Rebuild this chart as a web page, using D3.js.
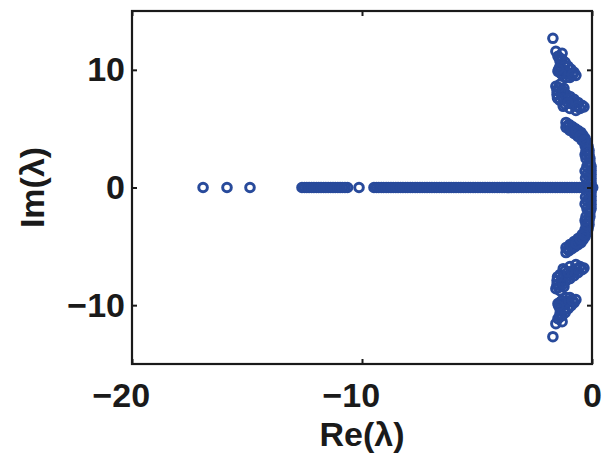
<!DOCTYPE html>
<html>
<head>
<meta charset="utf-8">
<script src="https://cdn.jsdelivr.net/npm/d3@7"></script>
<style>
  html, body { margin: 0; padding: 0; background: #ffffff; }
  svg { display: block; }
  text { font-family: "Liberation Sans", Arial, Helvetica, sans-serif; font-weight: bold; fill: #1a1a1a; }
</style>
</head>
<body>
<svg id="chart" width="605" height="455"></svg>
<script>
// ---- data ----
const xTicks = [-20, -10, 0];
const yTicks = [-10, 0, 10];
const xDomain = [-20, 0];
const yDomain = [-15, 15];
const xLabel = "Re(λ)";
const yLabel = "Im(λ)";

// purely real eigenvalues (Im = 0)
const realEigs = [
  -16.91, -15.87, -14.87,
  -12.61, -12.50, -12.40, -12.30, -12.19, -12.09, -11.98, -11.88, -11.78, -11.67,
  -11.57, -11.47, -11.36, -11.26, -11.16, -11.05, -10.95, -10.85, -10.74, -10.63,
  -10.13,
  -9.48, -9.37, -9.27, -9.16, -9.06, -8.95, -8.85, -8.74, -8.64, -8.53, -8.43, -8.32,
  -8.22, -8.11, -8.01, -7.90, -7.80, -7.69, -7.59, -7.48, -7.38, -7.27, -7.17, -7.06,
  -6.96, -6.85, -6.75, -6.64, -6.54, -6.43, -6.33, -6.22, -6.12, -6.01, -5.91, -5.80,
  -5.70, -5.59, -5.49, -5.38, -5.28, -5.17, -5.07, -4.96, -4.86, -4.75, -4.65, -4.54,
  -4.44, -4.33, -4.23, -4.12, -4.02, -3.91, -3.81, -3.70, -3.60, -3.49, -3.39, -3.28,
  -3.18, -3.07, -2.97, -2.86, -2.76, -2.65, -2.55, -2.44, -2.34, -2.23, -2.13, -2.02,
  -1.92, -1.81, -1.71, -1.60, -1.50, -1.39, -1.29, -1.18, -1.08, -0.97, -0.87, -0.76,
  -0.66, -0.55, -0.45, -0.34, -0.24, -0.13, -0.05, 0.03
];

// complex eigenvalues, upper half-plane (each comes with its conjugate)
const complexRe = [
  -1.70, -1.57, -1.30,
  -1.48, -1.30, -1.17, -1.04, -0.91, -0.78, -0.70, -1.39, -1.48, -1.30, -1.13, -0.96, -1.22, -1.39, -1.10,
  -1.40, -1.20, -1.05, -0.85, -1.35, -1.45,
  -1.57, -1.39, -1.22, -1.52, -1.35, -1.13, -0.96, -0.78, -0.61, -0.43, -1.39, -1.17, -0.96, -0.70, -0.52,
  -1.52, -1.26, -0.87, -0.35,
  -1.45, -1.25, -1.05, -0.85, -0.65, -1.25, -1.05, -1.50,
  -1.13, -1.00, -0.87, -0.74, -0.61, -0.48, -0.39, -0.30, -0.22, -0.17, -0.13, -0.13, -0.09, -0.09,
  -0.04, -0.04, -0.04, -0.04, -0.04,
  -1.13, -0.96, -0.78, -0.61, -0.43, -0.30,
  -0.26, -0.26, -0.22, -0.22, -0.17,
  -1.05, -0.90, -0.70, -0.50, -0.35, -0.20, -0.30, -0.15, -0.30, -0.10, -0.28
];
const complexIm = [
  12.68, 11.57, 11.40,
  11.15, 10.89, 10.64, 10.30, 10.04, 9.79, 9.53, 10.30, 9.87, 9.62, 9.36, 9.36, 9.96, 10.72, 9.80,
  11.00, 10.30, 9.70, 9.60, 9.70, 10.05,
  8.60, 8.77, 8.43, 7.91, 8.09, 7.91, 7.74, 7.49, 7.23, 6.98, 7.40, 7.06, 6.72, 6.55, 6.72,
  8.25, 7.60, 7.10, 6.85,
  8.50, 8.20, 7.50, 7.30, 6.90, 6.90, 7.20, 7.60,
  5.53, 5.36, 5.19, 5.02, 4.85, 4.68, 4.43, 4.17, 3.83, 3.49, 3.15, 2.81, 2.47, 2.13,
  1.79, 1.45, 1.11, 0.77, 0.43,
  5.11, 4.85, 4.60, 4.34, 4.00, 3.57,
  3.15, 2.47, 1.79, 1.11, 0.43,
  5.25, 5.00, 4.75, 4.40, 4.00, 3.20, 2.80, 2.00, 1.40, 1.00, 0.80
];

// ---- layout ----
const svg = d3.select("#chart");
const W = 605, H = 455;
const plot = { left: 132, right: 592, top: 11, bottom: 364 };
const markerColor = "#284a9b";

svg.append("rect").attr("width", W).attr("height", H).attr("fill", "#ffffff");

const x = d3.scaleLinear().domain(xDomain).range([plot.left, plot.right]);
const y = d3.scaleLinear().domain(yDomain).range([plot.bottom, plot.top]);

const fmt = d => d < 0 ? "\u2212" + Math.abs(d) : String(d);

// points
const pts = [];
realEigs.forEach(r => pts.push([r, 0]));
complexRe.forEach((r, i) => {
  pts.push([r, complexIm[i]]);
  pts.push([r, -complexIm[i]]);
});

svg.append("g").selectAll("circle").data(pts).join("circle")
  .attr("cx", d => x(d[0]))
  .attr("cy", d => y(d[1]))
  .attr("r", 4.3)
  .attr("fill", "none")
  .attr("stroke", markerColor)
  .attr("stroke-width", 3);

// axes
const fs = 34;
const gB = svg.append("g").attr("transform", `translate(0,${plot.bottom})`)
  .call(d3.axisBottom(x).tickValues(xTicks).tickFormat(fmt).tickSize(-5).tickPadding(19));
const gT = svg.append("g").attr("transform", `translate(0,${plot.top})`)
  .call(d3.axisTop(x).tickValues(xTicks).tickFormat("").tickSize(-5));
const gL = svg.append("g").attr("transform", `translate(${plot.left},0)`)
  .call(d3.axisLeft(y).tickValues(yTicks).tickFormat(fmt).tickSize(-5).tickPadding(7));
const gR = svg.append("g").attr("transform", `translate(${plot.right},0)`)
  .call(d3.axisRight(y).tickValues(yTicks).tickFormat("").tickSize(-5));

[gB, gT, gL, gR].forEach(g => {
  g.select(".domain").remove();
  g.selectAll(".tick line").attr("stroke", "#1a1a1a").attr("stroke-width", 2);
  g.selectAll("text").attr("font-size", fs).attr("font-family", null).attr("fill", "#1a1a1a");
});
gB.selectAll(".tick text").attr("dx", d => d < 0 ? "-0.33em" : 0);

// box
svg.append("rect")
  .attr("x", plot.left).attr("y", plot.top)
  .attr("width", plot.right - plot.left).attr("height", plot.bottom - plot.top)
  .attr("fill", "none").attr("stroke", "#1a1a1a").attr("stroke-width", 2.2);

// axis labels
svg.append("text")
  .attr("x", (plot.left + plot.right) / 2)
  .attr("y", 446)
  .attr("text-anchor", "middle")
  .attr("font-size", fs)
  .text(xLabel);

svg.append("text")
  .attr("transform", `translate(44,${(plot.top + plot.bottom) / 2}) rotate(-90)`)
  .attr("text-anchor", "middle")
  .attr("font-size", fs)
  .text(yLabel);
</script>
</body>
</html>
